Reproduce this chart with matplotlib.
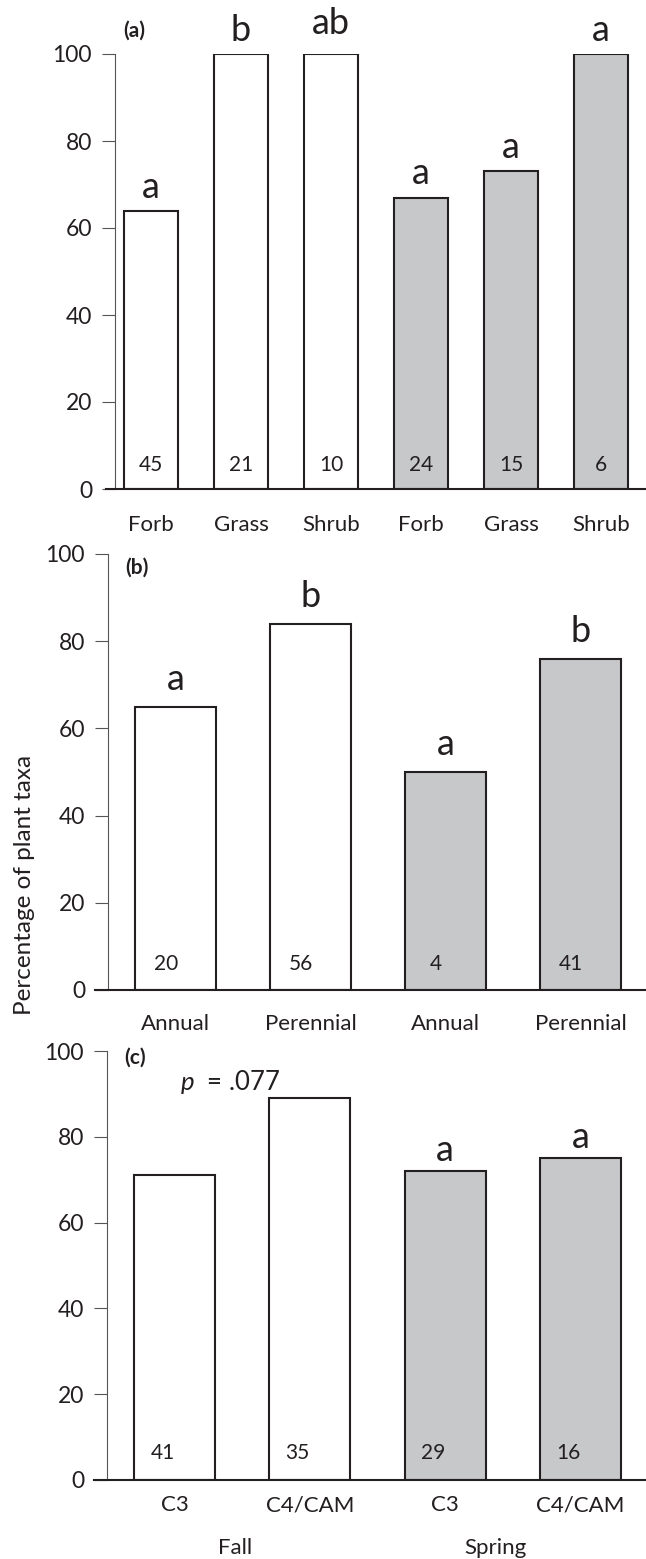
import numpy as np
import matplotlib
matplotlib.use('Agg')
import matplotlib.pyplot as plt
import matplotlib.transforms as mtransforms

plt.rcParams['font.family'] = ['Lato', 'DejaVu Sans']
plt.rcParams['mathtext.fontset'] = 'custom'
plt.rcParams['mathtext.rm'] = 'Lato'
plt.rcParams['mathtext.it'] = 'Lato:italic'

INK = '#231f20'
SPRING_GREY = '#c7c8ca'

# (a) growth form
growth_labels = ['Forb', 'Grass', 'Shrub', 'Forb', 'Grass', 'Shrub']
growth_season = ['Fall', 'Fall', 'Fall', 'Spring', 'Spring', 'Spring']
growth_pct = [64, 100, 100, 67, 73, 100]
growth_n = [45, 21, 10, 24, 15, 6]
growth_letters = ['a', 'b', 'ab', 'a', 'a', 'a']

# (b) life history
life_labels = ['Annual', 'Perennial', 'Annual', 'Perennial']
life_season = ['Fall', 'Fall', 'Spring', 'Spring']
life_pct = [65, 84, 50, 76]
life_n = [20, 56, 4, 41]
life_letters = ['a', 'b', 'a', 'b']

# (c) photosynthetic pathway
path_labels = ['C3', 'C4/CAM', 'C3', 'C4/CAM']
path_season = ['Fall', 'Fall', 'Spring', 'Spring']
path_pct = [71, 89, 72, 75]
path_n = [41, 35, 29, 16]
path_letters = ['', '', 'a', 'a']
fall_p_text = r'$\mathit{p}$  = .077'

season_names = ['Fall', 'Spring']
season_fill = {'Fall': 'white', 'Spring': SPRING_GREY}

W, H = 646, 1559


def px_axes(fig, x0, x1, y100, y0):
    return fig.add_axes([x0 / W, 1 - y0 / H, (x1 - x0) / W, (y0 - y100) / H])


def draw_panel(ax, labels, season, pct, n, letters, tag, xlim, yspine,
               n_base, n_dx, letter_gap, label_pad):
    x = np.arange(len(labels))
    ax.bar(x, pct, width=0.6, color=[season_fill[s] for s in season],
           edgecolor=INK, linewidth=1.5, zorder=2)
    ax.set_xlim(*xlim)
    ax.set_ylim(0, 100)
    ax.set_yticks([0, 20, 40, 60, 80, 100])
    ax.set_xticks(x)
    ax.set_xticklabels(labels)
    for s in ['top', 'right']:
        ax.spines[s].set_visible(False)
    ax.spines['left'].set_position(('data', yspine))
    ax.spines['left'].set_color('#555555')
    ax.spines['left'].set_linewidth(0.8)
    ax.spines['bottom'].set_color(INK)
    ax.spines['bottom'].set_linewidth(1.5)
    ax.spines['bottom'].set_zorder(3)
    ax.tick_params(axis='y', length=9.5, width=0.8, color='#555555',
                   pad=7, labelsize=16.5, labelcolor=INK)
    ax.tick_params(axis='x', length=0, pad=label_pad, labelsize=16,
                   labelcolor=INK)
    ax.patch.set_visible(False)

    for xi, v, cnt, let in zip(x, pct, n, letters):
        ax.text(xi + n_dx, n_base, str(cnt), ha='center', va='baseline',
                fontsize=15, color=INK, zorder=4)
        if let:
            lift = letter_gap + (1.7 if len(let) > 1 else 0)
            ax.text(xi, v + lift, let, ha='center', va='baseline',
                    fontsize=26, color=INK, clip_on=False)
    ax.text(tag[0], tag[1], tag[2], ha='left', va='center', fontsize=15,
            fontweight='bold', color=INK, clip_on=False)


fig = plt.figure(figsize=(W / 100, H / 100), dpi=100)

ax_a = px_axes(fig, 106, 646, 54, 489)
draw_panel(ax_a, growth_labels, growth_season, growth_pct, growth_n,
           growth_letters, (-0.31, 105.3, '(a)'), (-0.5, 5.5), -0.4,
           4.2, 0.0, 3.0, 18.5)

ax_b = px_axes(fig, 95, 646, 554, 990)
draw_panel(ax_b, life_labels, life_season, life_pct, life_n, life_letters,
           (-0.37, 96.8, '(b)'), (-0.596, 3.485), -0.5,
           4.7, -0.07, 3.8, 17)

ax_c = px_axes(fig, 94, 646, 1051, 1480)
draw_panel(ax_c, path_labels, path_season, path_pct, path_n, path_letters,
           (-0.37, 98.5, '(c)'), (-0.596, 3.485), -0.5,
           5.0, -0.09, 2.4, 11)
ax_c.text(0.04, 91, fall_p_text, ha='left', va='baseline', fontsize=18.5,
          color=INK)

# season names under panel (c)
trans = mtransforms.blended_transform_factory(ax_c.transData, ax_c.transAxes)
for xs, name in zip([0.45, 2.37], season_names):
    ax_c.text(xs, -0.172, name, transform=trans, ha='center', va='baseline',
              fontsize=16, color=INK)

fig.text(25 / W, 1 - 885 / H, 'Percentage of plant taxa', rotation=90,
         ha='center', va='center', fontsize=17.5, color=INK)

fig.savefig('out.png', dpi=100)
plt.close(fig)
